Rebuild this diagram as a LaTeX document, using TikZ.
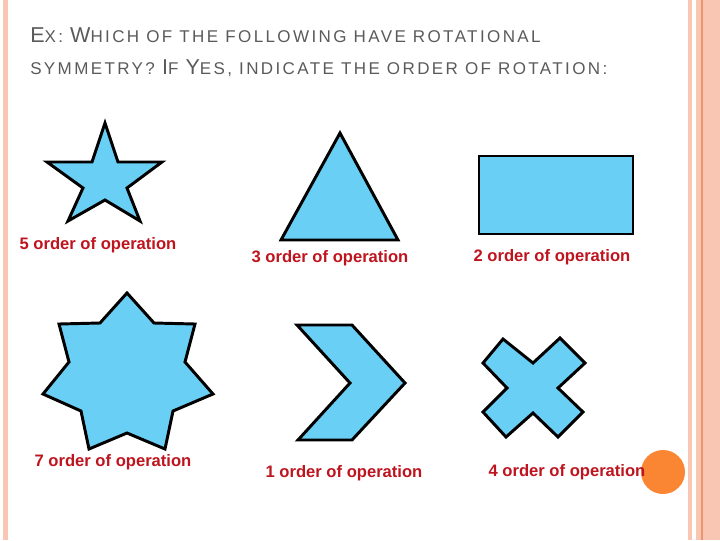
\documentclass[tikz,border=0pt]{standalone}
\usepackage{fontspec}
\setmainfont{Liberation Sans}
\newfontfamily\titlefont[LetterSpace=14]{Liberation Sans}
\usepackage{xcolor}
\definecolor{shapeblue}{RGB}{106,207,244}
\definecolor{labelred}{RGB}{190,20,30}
\definecolor{titlegray}{RGB}{90,90,90}
\definecolor{edgepink}{RGB}{248,198,178}
\definecolor{edgeline}{RGB}{236,150,110}
\definecolor{dotorange}{RGB}{250,134,52}
\newcommand{\tbig}[1]{{\fontsize{15.3}{18}\selectfont #1}}
\newcommand{\tsml}[1]{{\fontsize{12.1}{15}\selectfont #1}}

\begin{document}
\begin{tikzpicture}[
  x=0.025cm, y=-0.025cm,
  figure/.style={draw=black, fill=shapeblue, line width=2.1pt, line join=miter},
  caption/.style={text=labelred, font=\fontsize{11.8}{14}\selectfont\bfseries,
                  anchor=base, inner sep=0pt},
  heading/.style={text=titlegray, font=\titlefont, anchor=base west, inner sep=0pt}
]
  \useasboundingbox (0,0) rectangle (720,540);
  % page edges
  \fill[edgepink] (3,0) rectangle (8,540);
  \fill[edgepink] (688,0) rectangle (692,540);
  \fill[edgepink] (696,0) rectangle (720,540);
  \fill[edgeline] (701,0) rectangle (702.5,540);

  % title, two lines
  \node[heading] (title1) at (30,42)
    {\tbig{E}\tsml{X: }\tbig{W}\tsml{HICH OF THE FOLLOWING HAVE ROTATIONAL}};
  \node[heading] (title2) at (30,74)
    {\tsml{SYMMETRY? }\tbig{I}\tsml{F }\tbig{Y}\tsml{ES, INDICATE THE ORDER OF ROTATION:}};

  % top row
  \draw[figure] (105,123) -- (118,162) -- (162,162) -- (127,188) -- (140,221)
    -- (105,200) -- (68,221) -- (83,188) -- (47,162) -- (92,162) -- cycle;
  \draw[figure] (340,133) -- (398,240) -- (281,240) -- cycle;
  \draw[figure] (479,156) rectangle (633,234);

  % bottom row
  \draw[figure] (127,293) -- (154,323) -- (195,324) -- (185,362) -- (213,394)
    -- (173,411) -- (165,449) -- (127,433) -- (89,449) -- (81,411) -- (43,394)
    -- (69,362) -- (59,324) -- (100,323) -- cycle;
  \draw[figure] (297,325) -- (352,325) -- (405,383) -- (352,440) -- (298,440)
    -- (350,383) -- cycle;
  \draw[figure] (503,339) -- (533,363) -- (560,338) -- (585,363) -- (558,388)
    -- (583,412) -- (558,437) -- (533,413) -- (506,437) -- (483,412)
    -- (507,388) -- (483,363) -- cycle;

  % captions
  \node[caption] (cap5) at (98,249)  {5 order of operation};
  \node[caption] (cap3) at (330,262) {3 order of operation};
  \node[caption] (cap2) at (552,261) {2 order of operation};
  \node[caption] (cap7) at (113,466) {7 order of operation};
  \node[caption] (cap1) at (344,477) {1 order of operation};

  \fill[dotorange] (663,472) circle (22);
  \node[caption] (cap4) at (567,476) {4 order of operation};
\end{tikzpicture}
\end{document}
